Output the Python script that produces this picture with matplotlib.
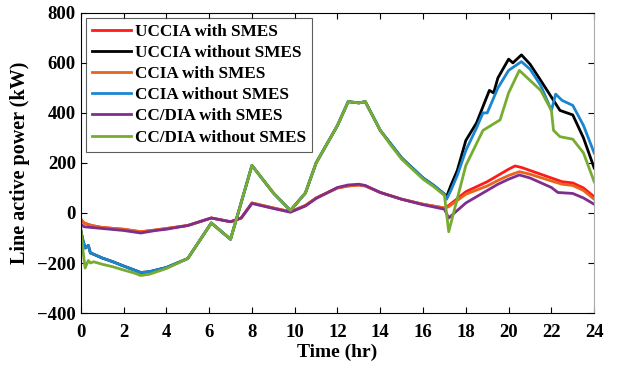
import numpy as np
import matplotlib.pyplot as plt

plt.rcParams['font.family'] = ['Liberation Serif', 'DejaVu Serif']
plt.rcParams['font.weight'] = 'bold'

labels = ["UCCIA with SMES", "UCCIA without SMES", "CCIA with SMES",
          "CCIA without SMES", "CC/DIA with SMES", "CC/DIA without SMES"]
colors = ["#ff1a1a", "#000000", "#e8641e", "#1a86d0", "#7e2f8e", "#77ac30"]

# common part of the "without SMES" curves (0 .. 17 hr)
t_hi = [0.0, 0.1, 0.2, 0.35, 0.45, 0.6, 1.0, 1.5, 2.0, 2.5, 2.8, 3.2, 4.0, 5.0,
        6.1, 7.0, 8.0, 9.0, 9.8, 10.5, 11.0, 12.0, 12.5, 13.0, 13.3, 14.0, 14.5,
        15.0, 15.5, 16.0, 16.5, 17.0]
p_green_c = [-60, -150, -220, -190, -200, -195, -205, -215, -228, -240, -250, -245,
             -222, -182, -40, -105, 190, 80, 10, 80, 200, 350, 445, 440, 445, 330,
             270, 215, 175, 135, 105, 70]
p_black_c = [-70, -110, -140, -130, -160, -165, -180, -195, -212, -228, -238, -235,
             -218, -182, -40, -105, 190, 80, 10, 80, 200, 350, 445, 440, 445, 330,
             275, 220, 180, 140, 110, 75]

# tail parts after 17 hr
t_black = [17.1, 17.3, 17.6, 18.0, 18.5, 18.8, 19.1, 19.3, 19.5, 20.0, 20.2, 20.6,
           21.0, 21.5, 22.1, 22.4, 23.0, 23.5, 24.0]
p_black = [65, 110, 170, 290, 360, 425, 490, 480, 540, 615, 600, 632, 595, 530,
           450, 410, 392, 300, 180]
t_blue = [17.1, 17.3, 17.6, 18.0, 18.5, 18.8, 19.0, 19.2, 19.5, 20.0, 20.6, 21.0,
          21.5, 22.0, 22.2, 22.5, 23.0, 23.5, 24.0]
p_blue = [55, 90, 150, 250, 340, 400, 400, 440, 500, 570, 605, 575, 510, 410, 475,
          450, 430, 350, 240]
t_green = [17.2, 18.0, 18.8, 19.6, 20.0, 20.5, 21.0, 21.5, 22.0, 22.1, 22.4, 23.0,
           23.5, 24.0]
p_green = [-75, 190, 330, 372, 480, 570, 530, 490, 410, 330, 305, 295, 240, 125]

# "with SMES" curves
t_lo = [0.0, 0.15, 0.5, 1.0, 2.0, 2.8, 3.5, 4.0, 5.0, 6.1, 7.0, 7.5, 8.0, 9.0,
        9.8, 10.5, 11.0, 12.0, 12.5, 13.0, 13.3, 14.0, 15.0, 16.0, 17.0]
p_orange_c = [-25, -40, -50, -58, -65, -75, -68, -62, -50, -20, -35, -20, 40, 20,
              5, 30, 60, 100, 108, 112, 108, 82, 55, 35, 20]
p_purple_c = [-45, -55, -58, -62, -70, -80, -70, -65, -50, -20, -35, -20, 38, 18,
              3, 28, 58, 102, 112, 115, 110, 82, 55, 33, 15]
t_red = [17.2, 18.0, 19.0, 19.5, 20.0, 20.3, 20.6, 21.0, 22.0, 22.5, 23.0, 23.5, 24.0]
p_red = [30, 85, 125, 150, 175, 188, 182, 170, 140, 125, 120, 100, 65]
t_orange = [17.2, 18.0, 19.0, 19.5, 20.0, 20.5, 21.0, 22.0, 22.5, 23.0, 23.5, 24.0]
p_orange = [25, 75, 108, 130, 150, 165, 155, 128, 115, 110, 90, 55]
t_purple = [17.2, 18.0, 19.0, 19.5, 20.0, 20.5, 21.0, 22.0, 22.3, 23.0, 23.5, 24.0]
p_purple = [-20, 40, 90, 115, 135, 152, 140, 102, 82, 78, 60, 35]

series = [
    (t_lo + t_red, p_orange_c + p_red),
    (t_hi + t_black, p_black_c + p_black),
    (t_lo + t_orange, p_orange_c + p_orange),
    (t_hi + t_blue, p_black_c + p_blue),
    (t_lo + t_purple, p_purple_c + p_purple),
    (t_hi + t_green, p_green_c + p_green),
]

fig = plt.figure(figsize=(6.17, 3.67), dpi=100)
ax = fig.add_axes([0.131, 0.147, 0.832, 0.818])

for (t, p), c, lab in zip(series, colors, labels):
    ax.plot(t, p, color=c, linewidth=2, label=lab)

ax.set_xlim(0, 24)
ax.set_ylim(-400, 800)
ax.set_xticks(np.arange(0, 25, 2))
ax.set_yticks(np.arange(-400, 801, 200))
ax.tick_params(direction='in', top=True, right=True, labelsize=13.5, length=4)
ax.tick_params(axis='x', pad=8)
for lab in ax.get_xticklabels() + ax.get_yticklabels():
    lab.set_fontweight('bold')
ax.spines['right'].set_color('#aaaaaa')
ax.set_xlabel("Time (hr)", fontsize=14, fontweight='bold', labelpad=2)
ax.set_ylabel("Line active power (kW)", fontsize=14.5, fontweight='bold', labelpad=5)

leg = ax.legend(loc='upper left', fontsize=12.3, frameon=True, fancybox=False,
                edgecolor='#333333', borderaxespad=0.3, handlelength=2.3,
                handletextpad=0.2, labelspacing=0.3, borderpad=0.35)
leg.get_frame().set_linewidth(0.8)
for txt in leg.get_texts():
    txt.set_fontweight('bold')

fig.savefig("out.png", dpi=100)
